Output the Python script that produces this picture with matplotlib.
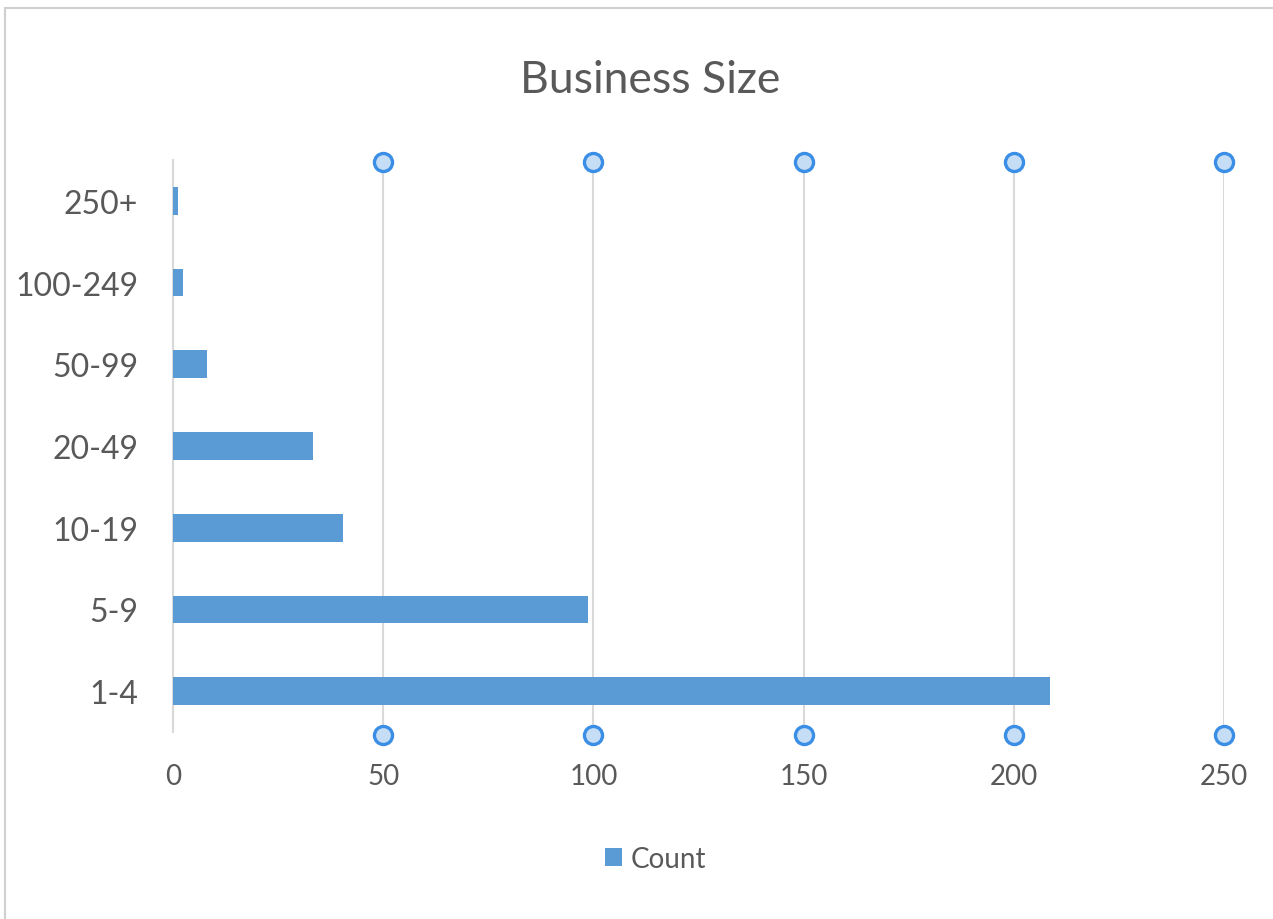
import matplotlib.pyplot as plt
from matplotlib.patches import Rectangle

categories = ['1-4', '5-9', '10-19', '20-49', '50-99', '100-249', '250+']
counts = [208.5, 98.8, 40.5, 33.3, 8.2, 2.4, 1.1]
x_ticks = [0, 50, 100, 150, 200, 250]
handle_ticks = [50, 100, 150, 200, 250]

bar_color = '#5b9bd5'
text_color = '#595959'
grid_color = '#d9d9d9'

plt.rcParams['font.family'] = ['Lato', 'DejaVu Sans']

fig = plt.figure(figsize=(12.73, 9.2), dpi=100)
ax = fig.add_axes([0.1359, 0.2033, 0.8256, 0.6217])

ax.barh(categories, counts, height=0.34, color=bar_color, label='Count', zorder=3)

ax.set_xlim(0, 250)
ax.set_ylim(-0.5, len(categories) - 0.5)
ax.set_xticks(x_ticks)
ax.grid(axis='x', color=grid_color, linewidth=1.5, zorder=0)
ax.tick_params(length=0, labelcolor=text_color)
ax.tick_params(axis='x', labelsize=20, pad=22)
ax.tick_params(axis='y', labelsize=23, pad=25)
for side in ['top', 'right', 'bottom']:
    ax.spines[side].set_visible(False)
ax.spines['left'].set_color(grid_color)
ax.spines['left'].set_linewidth(1.5)

# selection handles on the gridlines
trans = ax.get_xaxis_transform()
for y in [0.997, -0.005]:
    ax.plot(handle_ticks, [y] * len(handle_ticks), 'o', transform=trans,
            markersize=13, markerfacecolor='#c6def5', markeredgecolor='#3a8ee6',
            markeredgewidth=2.4, clip_on=False, zorder=5)

fig.text(0.511, 0.912, 'Business Size', ha='center', va='center',
         fontsize=32, color=text_color)

ax.legend(loc='center', bbox_to_anchor=(0.459, -0.222), frameon=False,
          fontsize=20, labelcolor=text_color, handlelength=0.6, handleheight=0.6,
          handletextpad=0.3)

# faint chart border
fig.patches.append(Rectangle((0.004, -0.01), 1.0, 1.0, transform=fig.transFigure,
                             fill=False, edgecolor='#d0d0d0', linewidth=1.5))

fig.savefig('out.png', dpi=100)
